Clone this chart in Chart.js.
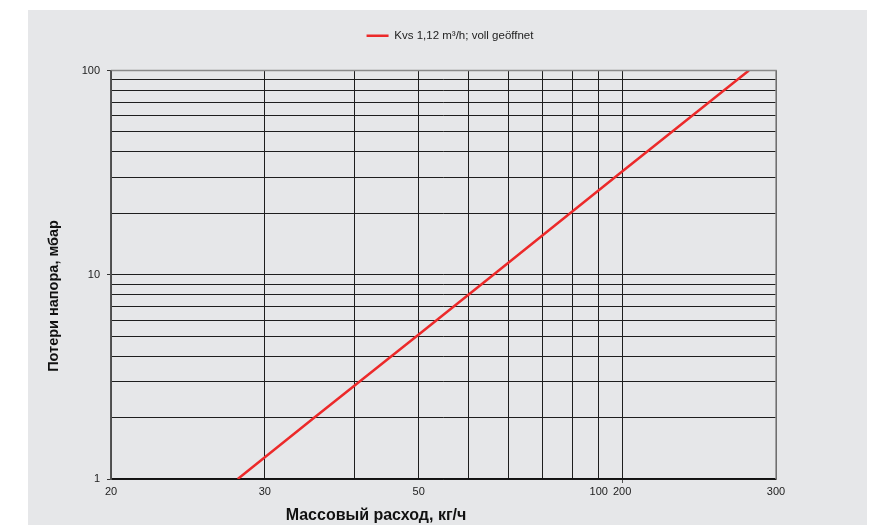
<!DOCTYPE html>
<html lang="ru">
<head>
    <meta charset="UTF-8">
    <title>Потери напора</title>
    <script src="https://cdn.jsdelivr.net/npm/chart.js"></script>
    <style>
        body {
            margin: 0;
            background: #ffffff;
            font-family: "Liberation Sans", Arial, sans-serif;
        }
        #box {
            position: absolute;
            left: 28px;
            top: 10px;
            width: 839px;
            height: 515px;
            background: #e6e7e9;
        }
    </style>
</head>
<body>
<div id="box">
    <canvas id="lossChart" width="839" height="515"></canvas>
</div>

<script>
    // values
    const massFlow = [35.4, 50, 80, 112, 200, 354];
    const pressureLoss = [1.0, 2.0, 5.1, 10, 32, 100];
    const seriesLabel = 'Kvs 1,12 m³/h; voll geöffnet';

    // vertical grid lines and the (odd) labels printed under some of them
    const xGridValues = [20, 40, 60, 80, 100, 120, 140, 160, 180, 200, 400];
    const xTickValues = [20, 40, 80, 180, 200, 400];
    const xTickLabels = ['20', '30', '50', '100', '200', '300'];

    const yGridValues = [1, 2, 3, 4, 5, 6, 7, 8, 9, 10, 20, 30, 40, 50, 60, 70, 80, 90, 100];
    const yTickValues = [1, 10, 100];
    const yTickLabels = ['1', '10', '100'];

    const xTitle = 'Массовый расход, кг/ч';
    const yTitle = 'Потери напора, мбар';

    function labelFor(values, labels, v) {
        const i = values.findIndex(t => Math.abs(t - v) < 1e-6);
        return i >= 0 ? labels[i] : '';
    }

    // extra gap under the legend, and nudge it right like the original
    const legendTweak = {
        id: 'legendTweak',
        afterInit(chart) {
            const legend = chart.legend;
            const fit = legend.fit;
            legend.fit = function () {
                fit.call(this);
                this.height += 19;
            };
            const draw = legend.draw;
            legend.draw = function () {
                this.ctx.save();
                this.ctx.translate(48, 0);
                draw.call(this);
                this.ctx.restore();
            };
        }
    };

    const frameAndTitles = {
        id: 'frameAndTitles',
        afterDraw(chart) {
            const ctx = chart.ctx;
            const a = chart.chartArea;
            ctx.save();
            ctx.strokeStyle = '#8a8a8a';
            ctx.lineWidth = 1.5;
            ctx.beginPath();
            ctx.moveTo(a.left, a.top);
            ctx.lineTo(a.right, a.top);
            ctx.lineTo(a.right, a.bottom);
            ctx.stroke();
            ctx.strokeStyle = '#555';
            ctx.beginPath();
            ctx.moveTo(a.left, a.top);
            ctx.lineTo(a.left, a.bottom);
            ctx.stroke();

            ctx.fillStyle = '#111';
            ctx.textAlign = 'center';
            ctx.textBaseline = 'middle';
            ctx.font = 'bold 16px "Liberation Sans", Arial, sans-serif';
            ctx.fillText(xTitle, 348, 506);
            ctx.font = 'bold 14.5px "Liberation Sans", Arial, sans-serif';
            ctx.translate(26, 286);
            ctx.rotate(-Math.PI / 2);
            ctx.fillText(yTitle, 0, 0);
            ctx.restore();
        }
    };

    const ctx = document.getElementById('lossChart').getContext('2d');
    new Chart(ctx, {
        type: 'line',
        data: {
            datasets: [{
                label: seriesLabel,
                data: massFlow.map((m, i) => ({ x: m, y: pressureLoss[i] })),
                borderColor: '#ec2a2a',
                backgroundColor: '#ec2a2a',
                borderWidth: 2.5,
                pointRadius: 0,
                tension: 0
            }]
        },
        options: {
            responsive: false,
            animation: false,
            layout: {
                padding: { left: 0, right: 91, top: 0, bottom: 0 }
            },
            plugins: {
                legend: {
                    position: 'top',
                    labels: {
                        boxWidth: 22,
                        boxHeight: 0,
                        padding: 20,
                        color: '#222',
                        font: { family: '"Liberation Sans", Arial, sans-serif', size: 11.5 }
                    }
                },
                tooltip: { enabled: false }
            },
            scales: {
                x: {
                    type: 'logarithmic',
                    min: 20,
                    max: 400,
                    afterBuildTicks: s => { s.ticks = xGridValues.map(v => ({ value: v })); },
                    afterFit: s => { s.height = 46; },
                    border: { display: true, color: '#111', width: 1.5 },
                    grid: {
                        color: '#1e1e1e',
                        lineWidth: 1,
                        tickLength: 4,
                        tickColor: c => labelFor(xTickValues, xTickLabels, c.tick.value) === '200' ? '#555' : 'rgba(0,0,0,0)'
                    },
                    ticks: {
                        autoSkip: false,
                        maxRotation: 0,
                        padding: 2,
                        color: '#222',
                        font: { family: '"Liberation Sans", Arial, sans-serif', size: 11 },
                        callback: v => labelFor(xTickValues, xTickLabels, v)
                    }
                },
                y: {
                    type: 'logarithmic',
                    min: 1,
                    max: 100,
                    afterBuildTicks: s => { s.ticks = yGridValues.map(v => ({ value: v })); },
                    afterFit: s => { s.width = 83; },
                    border: { display: true, color: '#555', width: 1.5 },
                    grid: {
                        color: '#1e1e1e',
                        lineWidth: 1,
                        tickLength: 4,
                        tickColor: c => labelFor(yTickValues, yTickLabels, c.tick.value) ? '#333' : 'rgba(0,0,0,0)'
                    },
                    ticks: {
                        autoSkip: false,
                        padding: 7,
                        color: '#222',
                        font: { family: '"Liberation Sans", Arial, sans-serif', size: 11 },
                        callback: v => labelFor(yTickValues, yTickLabels, v)
                    }
                }
            }
        },
        plugins: [legendTweak, frameAndTitles]
    });
</script>
</body>
</html>
